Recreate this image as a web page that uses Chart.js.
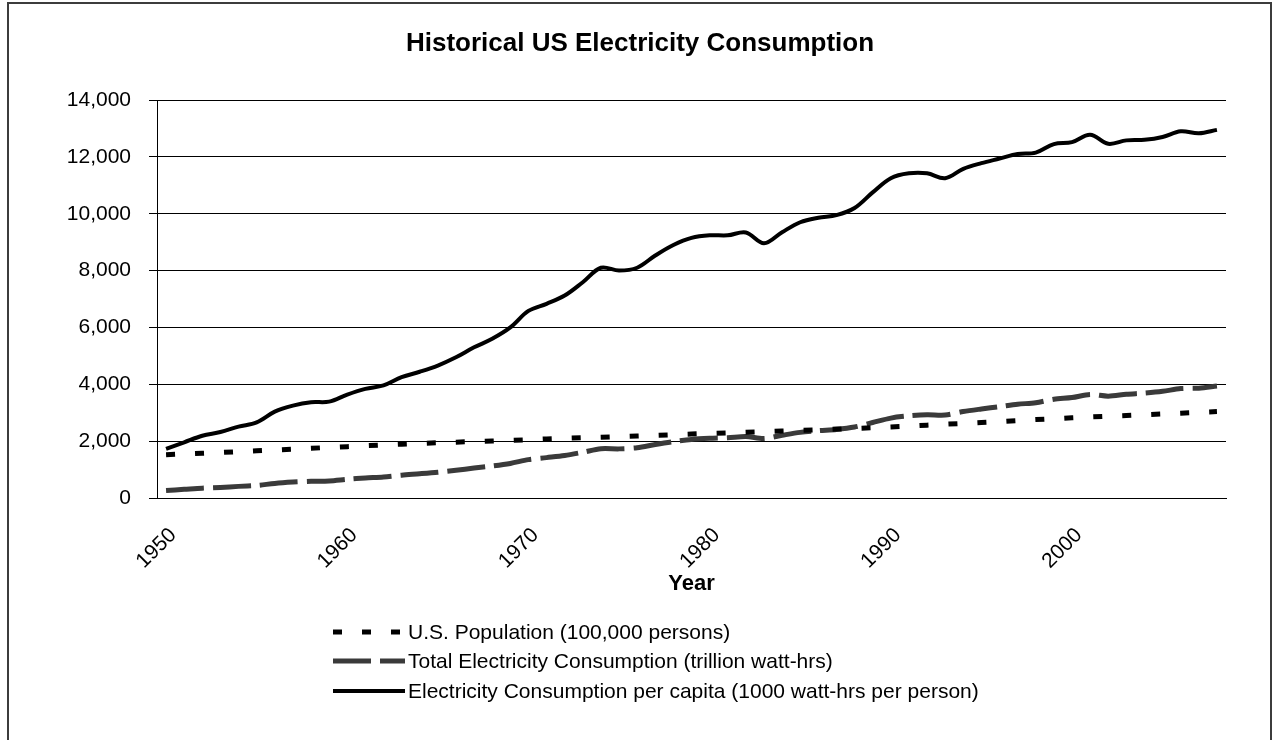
<!DOCTYPE html>
<html>
<head>
<meta charset="utf-8">
<title>Historical US Electricity Consumption</title>
<script src="https://cdn.jsdelivr.net/npm/chart.js@4.4.1/dist/chart.umd.min.js"></script>
<style>
  html, body { margin: 0; padding: 0; background: #fff; }
  #wrap { width: 1280px; height: 740px; position: relative; }
  canvas { display: block; }
</style>
</head>
<body>
<div id="wrap"><canvas id="chart" width="1280" height="740"></canvas></div>
<script>
// ---- data -------------------------------------------------------------
const years = [
  1950, 1951, 1952, 1953, 1954, 1955, 1956, 1957, 1958, 1959,
  1960, 1961, 1962, 1963, 1964, 1965, 1966, 1967, 1968, 1969,
  1970, 1971, 1972, 1973, 1974, 1975, 1976, 1977, 1978, 1979,
  1980, 1981, 1982, 1983, 1984, 1985, 1986, 1987, 1988, 1989,
  1990, 1991, 1992, 1993, 1994, 1995, 1996, 1997, 1998, 1999,
  2000, 2001, 2002, 2003, 2004, 2005, 2006, 2007, 2008
];

// U.S. population, in units of 100,000 persons
const population = [
  1523, 1549, 1576, 1600, 1630, 1659, 1689, 1720, 1749, 1778,
  1807, 1837, 1866, 1892, 1919, 1943, 1965, 1986, 2007, 2027,
  2051, 2079, 2099, 2119, 2139, 2160, 2182, 2204, 2226, 2251,
  2272, 2293, 2315, 2336, 2358, 2379, 2402, 2424, 2448, 2471,
  2499, 2530, 2563, 2595, 2626, 2658, 2690, 2726, 2758, 2790,
  2822, 2850, 2876, 2901, 2929, 2955, 2984, 3012, 3041
];

// Total electricity consumption, trillion watt-hours
const totalConsumption = [
  263, 304, 345, 371, 409, 441, 513, 559, 589, 601,
  658, 705, 739, 804, 852, 905, 973, 1053, 1124, 1216,
  1350, 1420, 1494, 1608, 1733, 1728, 1767, 1880, 1981, 2060,
  2099, 2119, 2162, 2093, 2205, 2308, 2368, 2412, 2497, 2656,
  2811, 2889, 2927, 2919, 3041, 3131, 3212, 3298, 3351, 3474,
  3533, 3642, 3583, 3649, 3691, 3753, 3849, 3864, 3938
];

// Electricity consumption per capita, 1000 watt-hours per person
const perCapita = [
  1730, 1960, 2190, 2320, 2510, 2660, 3040, 3250, 3370, 3390,
  3640, 3840, 3960, 4250, 4440, 4660, 4950, 5300, 5600, 6000,
  6580, 6830, 7120, 7590, 8100, 8000, 8100, 8530, 8900, 9150,
  9240, 9240, 9340, 8960, 9350, 9700, 9860, 9950, 10200, 10750,
  11250, 11420, 11420, 11250, 11580, 11780, 11940, 12100, 12150, 12450,
  12520, 12780, 12460, 12580, 12600, 12700, 12900, 12830, 12950
];

const xTickYears = [1950, 1960, 1970, 1980, 1990, 2000];
const yTickValues = [0, 2000, 4000, 6000, 8000, 10000, 12000, 14000];

const seriesLabels = [
  'U.S. Population (100,000 persons)',
  'Total Electricity Consumption (trillion watt-hrs)',
  'Electricity Consumption per capita (1000 watt-hrs per person)'
];
const chartTitle = 'Historical US Electricity Consumption';
const xAxisTitle = 'Year';

// ---- styling ----------------------------------------------------------
const FONT = '"Liberation Sans", Arial, Helvetica, sans-serif';
Chart.defaults.font.family = FONT;
Chart.defaults.color = '#000';

// outer frame of the chart object
const frame = {
  id: 'frame',
  beforeDraw(chart) {
    const ctx = chart.ctx;
    ctx.save();
    ctx.fillStyle = '#fff';
    ctx.fillRect(0, 0, chart.width, chart.height);
    ctx.strokeStyle = '#3c3c3c';
    ctx.lineWidth = 2;
    ctx.strokeRect(8, 3, 1263, 800);
    ctx.restore();
  }
};

// stacked legend below the axis title, samples drawn from each dataset's style
const stackedLegend = {
  id: 'stackedLegend',
  afterDraw(chart) {
    const ctx = chart.ctx;
    const rowY = [632, 661, 691];
    const x0 = 333, x1 = 405;
    chart.data.datasets.forEach((ds, i) => {
      const y = rowY[i];
      ctx.save();
      ctx.strokeStyle = ds.borderColor;
      ctx.lineWidth = ds.borderWidth;
      ctx.lineCap = 'butt';
      ctx.setLineDash(ds.borderDash || []);
      ctx.beginPath();
      ctx.moveTo(x0, y);
      ctx.lineTo(x1, y);
      ctx.stroke();
      ctx.setLineDash([]);
      ctx.fillStyle = '#000';
      ctx.font = '21px ' + FONT;
      ctx.textAlign = 'left';
      ctx.textBaseline = 'middle';
      ctx.fillText(ds.label, x1 + 3, y + 1);
      ctx.restore();
    });
  }
};

new Chart(document.getElementById('chart'), {
  type: 'line',
  data: {
    labels: years,
    datasets: [
      {
        label: seriesLabels[0],
        data: population,
        borderColor: '#000',
        borderWidth: 5,
        borderDash: [9, 20],
        pointRadius: 0,
        tension: 0,
        fill: false
      },
      {
        label: seriesLabels[1],
        data: totalConsumption,
        borderColor: '#3a3a3a',
        borderWidth: 5,
        borderDash: [38, 9],
        pointRadius: 0,
        tension: 0.3,
        fill: false
      },
      {
        label: seriesLabels[2],
        data: perCapita,
        borderColor: '#000',
        borderWidth: 4,
        pointRadius: 0,
        tension: 0.35,
        fill: false
      }
    ]
  },
  options: {
    responsive: false,
    animation: false,
    devicePixelRatio: 1,
    layout: { padding: { left: 54, right: 54, top: 0, bottom: 0 } },
    plugins: {
      legend: { display: false },
      tooltip: { enabled: false },
      title: {
        display: true,
        text: chartTitle,
        color: '#000',
        font: { size: 26, weight: 'bold' },
        padding: { top: 28, bottom: 40.8 }
      }
    },
    scales: {
      x: {
        type: 'category',
        offset: true,
        grid: { display: false, drawTicks: false },
        border: { display: true, color: '#000', width: 1 },
        ticks: {
          autoSkip: false,
          minRotation: 45,
          maxRotation: 45,
          padding: 25,
          labelOffset: 7,
          color: '#000',
          font: { size: 21 },
          callback(value, index) {
            const yr = years[index];
            return xTickYears.includes(yr) ? String(yr) : '';
          }
        },
        title: {
          display: true,
          text: xAxisTitle,
          color: '#000',
          font: { size: 22, weight: 'bold' },
          padding: { top: 0, bottom: 143 }
        },
        afterFit(scale) { scale.height = 242; }
      },
      y: {
        min: yTickValues[0],
        max: yTickValues[yTickValues.length - 1],
        ticks: {
          stepSize: yTickValues[1] - yTickValues[0],
          padding: 18,
          color: '#000',
          font: { size: 21 },
          callback: (v) => v.toLocaleString('en-US')
        },
        grid: { color: '#000', lineWidth: 1, drawTicks: true, tickLength: 8, tickColor: '#000' },
        border: { display: true, color: '#000', width: 1 },
        afterFit(scale) { scale.width = 103; }
      }
    }
  },
  plugins: [frame, stackedLegend]
});
</script>
</body>
</html>
